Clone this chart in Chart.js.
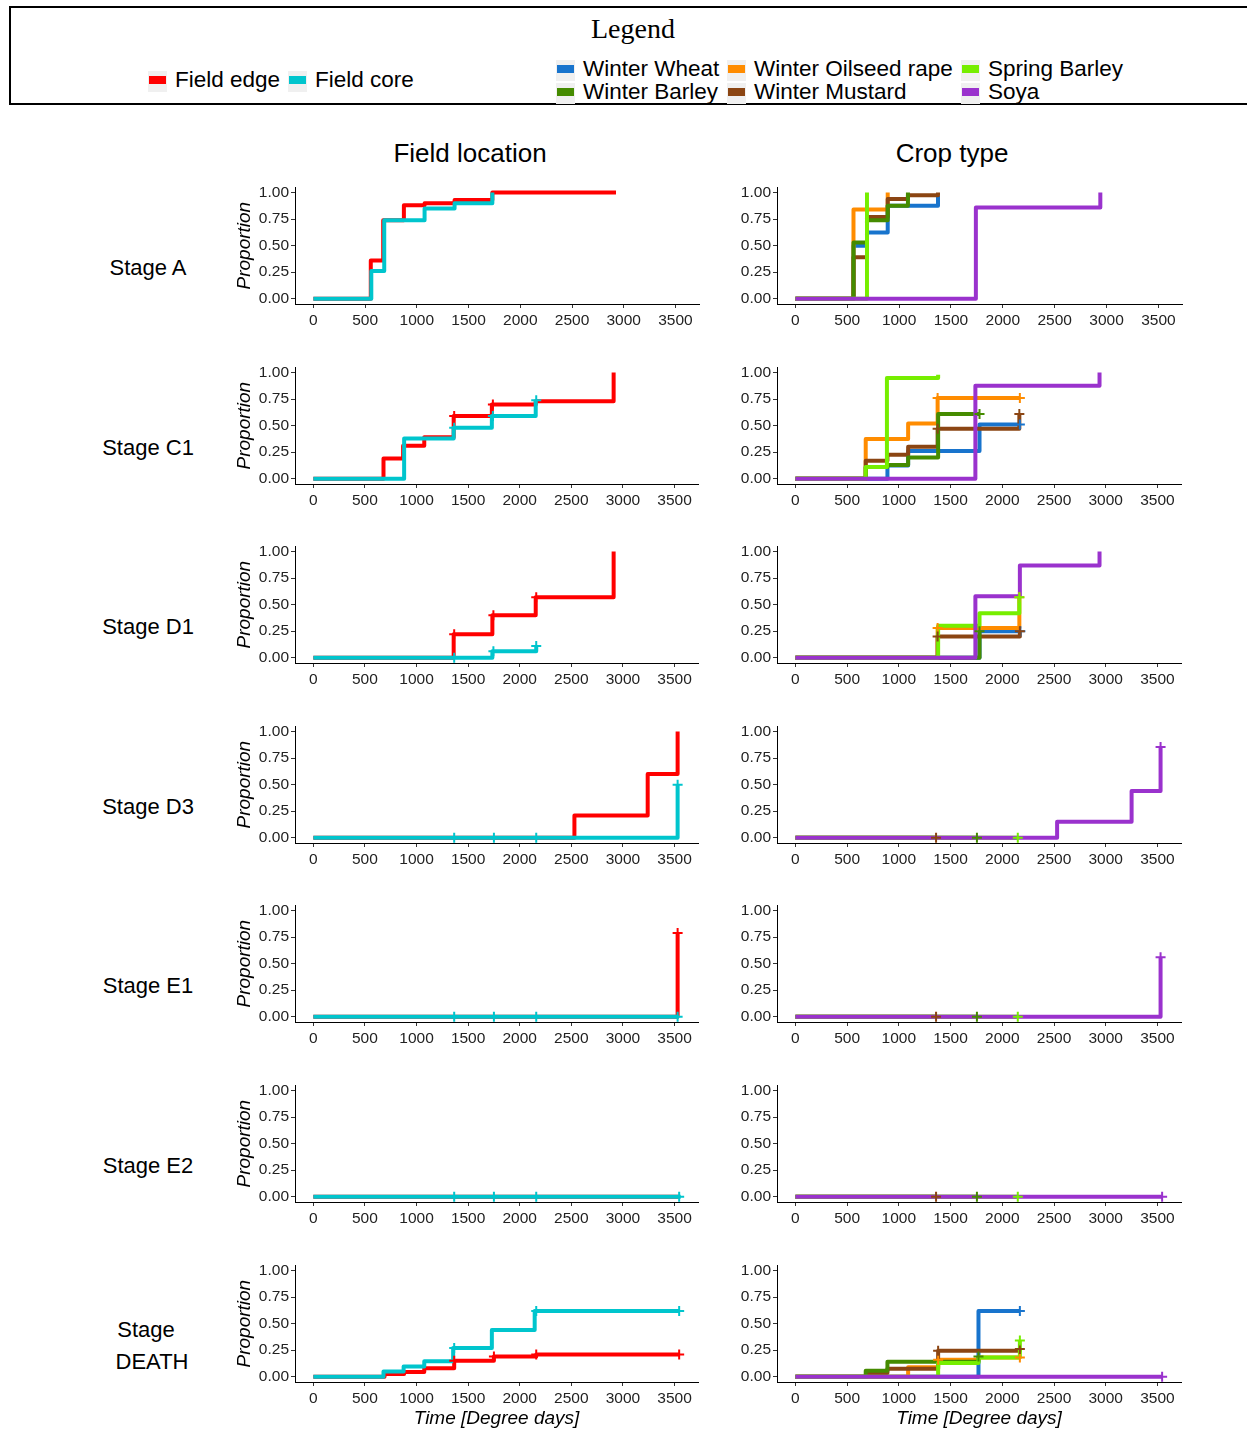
<!DOCTYPE html>
<html><head><meta charset="utf-8">
<script src="https://cdn.jsdelivr.net/npm/chart.js@4.4.0/dist/chart.umd.min.js"></script>
<style>
html,body{margin:0;padding:0;background:#fff;overflow:hidden;width:1247px;height:1429px;}
body{position:relative;font-family:"Liberation Sans",Arial,sans-serif;}
.t{position:absolute;white-space:nowrap;transform:translate(-50%,-50%);color:#000;line-height:1;}
.l{position:absolute;white-space:nowrap;transform:translateY(-50%);color:#000;font-size:22.5px;line-height:1;}
canvas{position:absolute;}
#legend{position:absolute;left:9px;top:6px;width:1280px;height:99px;border:2px solid #000;box-sizing:border-box;}
.key{position:absolute;width:19px;height:21px;background:#f0f0f0;}
.key i{position:absolute;left:1px;top:5px;width:17px;height:8px;}
</style></head><body>
<div id="legend"></div>
<script>
// ---------- axis ticks ----------
const xTicks = [0,500,1000,1500,2000,2500,3000,3500];
const xTickLabels = ['0','500','1000','1500','2000','2500','3000','3500'];
const yTicks = [0,0.25,0.5,0.75,1];
const yTickLabels = ['0.00','0.25','0.50','0.75','1.00'];
const stageLabels = ['Stage A','Stage C1','Stage D1','Stage D3','Stage E1','Stage E2','Stage|DEATH'];
const locationNames = ['Field edge','Field core'];
const cropNames = ['Winter Wheat','Winter Oilseed rape','Spring Barley','Winter Barley','Winter Mustard','Soya'];

// ---------- Field location: [time, proportion] step points, censor times ----------
const A_edge = [[0,0],[555,0.36],[675,0.74],[875,0.88],[1075,0.90],[1365,0.93],[1730,1.0],[2925,1.0]];
const A_edge_c = [];
const A_core = [[0,0],[560,0.26],[685,0.74],[1075,0.85],[1365,0.90],[1730,1.0]];
const A_core_c = [];
const C1_edge = [[0,0],[680,0.19],[870,0.31],[1075,0.39],[1360,0.59],[1730,0.70],[2155,0.73],[2910,1.0]];
const C1_edge_c = [1365,1740];
const C1_core = [[0,0],[880,0.38],[1360,0.48],[1730,0.59],[2155,0.74]];
const C1_core_c = [1365,1740,2160];
const D1_edge = [[0,0],[1360,0.22],[1735,0.40],[2155,0.57],[2910,1.0]];
const D1_edge_c = [1365,1745,2160];
const D1_core = [[0,0],[1735,0.06],[2160,0.11]];
const D1_core_c = [1365,1745,2160];
const D3_edge = [[0,0],[2530,0.21],[3240,0.60],[3530,1.0]];
const D3_edge_c = [];
const D3_core = [[0,0],[3530,0.50]];
const D3_core_c = [1365,1750,2160,3530];
const E1_edge = [[0,0],[3530,0.79]];
const E1_edge_c = [3530];
const E1_core = [[0,0],[3540,0]];
const E1_core_c = [1365,1750,2160,3530];
const E2_edge = [[0,0],[3540,0]];
const E2_edge_c = [];
const E2_core = [[0,0],[3560,0]];
const E2_core_c = [1365,1750,2160,3545];
const DEATH_edge = [[0,0],[690,0.025],[880,0.045],[1075,0.08],[1365,0.15],[1750,0.19],[2160,0.21],[3545,0.21]];
const DEATH_edge_c = [1365,1750,2160,3545];
const DEATH_core = [[0,0],[680,0.05],[875,0.095],[1075,0.146],[1355,0.27],[1730,0.44],[2145,0.62],[3545,0.62]];
const DEATH_core_c = [1365,2160,3545];

// ---------- Crop type ----------
const A_ww = [[0,0],[560,0.50],[690,0.625],[890,0.875],[1375,0.97]];
const A_wor = [[0,0],[560,0.84],[890,1.0]];
const A_sb = [[0,0],[690,1.0]];
const A_wb = [[0,0],[560,0.53],[690,0.74],[890,0.875],[1085,1.0]];
const A_wm = [[0,0],[560,0.39],[690,0.77],[890,0.94],[1085,0.975],[1375,1.0]];
const A_soy = [[0,0],[1740,0.86],[2940,1.0]];
const A_ww_c = [], A_wor_c = [], A_sb_c = [], A_wb_c = [], A_wm_c = [], A_soy_c = [];

const C1_ww = [[0,0],[890,0.125],[1090,0.26],[1780,0.51],[2170,0.51]];
const C1_ww_c = [2170];
const C1_wor = [[0,0],[680,0.375],[1090,0.52],[1375,0.76],[2170,0.76]];
const C1_wor_c = [1375,2170];
const C1_sb = [[0,0],[680,0.11],[885,0.95],[1380,0.98]];
const C1_sb_c = [];
const C1_wb = [[0,0],[680,0.11],[890,0.13],[1090,0.20],[1380,0.61],[1780,0.61]];
const C1_wb_c = [1780];
const C1_wm = [[0,0],[680,0.17],[890,0.225],[1090,0.30],[1375,0.47],[2165,0.61]];
const C1_wm_c = [1375,2165];
const C1_soy = [[0,0],[1740,0.875],[2940,1.0]];
const C1_soy_c = [];

const D1_ww = [[0,0],[1780,0.25],[2175,0.25]];
const D1_ww_c = [2175];
const D1_wor = [[0,0],[1375,0.28],[2165,0.57]];
const D1_wor_c = [1375,2165];
const D1_sb = [[0,0],[1380,0.30],[1780,0.42],[2165,0.57]];
const D1_sb_c = [2165];
const D1_wb = [[0,0],[1780,0.25]];
const D1_wb_c = [1780];
const D1_wm = [[0,0],[1375,0.20],[2170,0.25]];
const D1_wm_c = [1375,2170];
const D1_soy = [[0,0],[1740,0.58],[2170,0.87],[2940,1.0]];
const D1_soy_c = [];

const D3_soy = [[0,0],[2530,0.15],[3250,0.44],[3530,0.855]];
const D3_soy_c = [3530];
const D3_wm = [[0,0],[1360,0]];
const D3_wm_c = [1360];
const D3_wb = [[0,0],[1755,0]];
const D3_wb_c = [1755];
const D3_sb = [[0,0],[2150,0]];
const D3_sb_c = [2150];

const E1_soy = [[0,0],[3530,0.56]];
const E1_soy_c = [3530];
const E1_wm = [[0,0],[1360,0]];
const E1_wm_c = [1360];
const E1_wb = [[0,0],[1755,0]];
const E1_wb_c = [1755];
const E1_sb = [[0,0],[2150,0]];
const E1_sb_c = [2150];

const E2_soy = [[0,0],[3545,0]];
const E2_soy_c = [3545];
const E2_wm = [[0,0],[1360,0]];
const E2_wm_c = [1360];
const E2_wb = [[0,0],[1755,0]];
const E2_wb_c = [1755];
const E2_sb = [[0,0],[2150,0]];
const E2_sb_c = [2150];

const DEATH_ww = [[0,0],[1770,0.62],[2170,0.62]];
const DEATH_ww_c = [2170];
const DEATH_wor = [[0,0],[1090,0.09],[1380,0.16],[1770,0.18],[2170,0.18]];
const DEATH_wor_c = [1380,2170];
const DEATH_sb = [[0,0],[1380,0.13],[1770,0.18],[2170,0.34]];
const DEATH_sb_c = [2170];
const DEATH_wb = [[0,0],[680,0.055],[890,0.14],[1770,0.19]];
const DEATH_wb_c = [1770];
const DEATH_wm = [[0,0],[685,0.035],[890,0.076],[1380,0.245],[2170,0.26]];
const DEATH_wm_c = [1380,2170];
const DEATH_soy = [[0,0],[3545,0]];
const DEATH_soy_c = [3545];

const colors = {
  'Field edge':'#FF0000','Field core':'#00C5CD',
  'Winter Wheat':'#1874CD','Winter Oilseed rape':'#FF8C00','Spring Barley':'#76EE00',
  'Winter Barley':'#458B00','Winter Mustard':'#8B4513','Soya':'#9A32CD'
};

// per row: series listed top-most first
const locRows = [
  [['Field core',A_core,A_core_c],['Field edge',A_edge,A_edge_c]],
  [['Field core',C1_core,C1_core_c],['Field edge',C1_edge,C1_edge_c]],
  [['Field core',D1_core,D1_core_c],['Field edge',D1_edge,D1_edge_c]],
  [['Field core',D3_core,D3_core_c],['Field edge',D3_edge,D3_edge_c]],
  [['Field core',E1_core,E1_core_c],['Field edge',E1_edge,E1_edge_c]],
  [['Field core',E2_core,E2_core_c],['Field edge',E2_edge,E2_edge_c]],
  [['Field core',DEATH_core,DEATH_core_c],['Field edge',DEATH_edge,DEATH_edge_c]]
];
const cropRows = [
  [['Soya',A_soy,A_soy_c],['Spring Barley',A_sb,A_sb_c],['Winter Barley',A_wb,A_wb_c],['Winter Mustard',A_wm,A_wm_c],['Winter Oilseed rape',A_wor,A_wor_c],['Winter Wheat',A_ww,A_ww_c]],
  [['Soya',C1_soy,C1_soy_c],['Spring Barley',C1_sb,C1_sb_c],['Winter Barley',C1_wb,C1_wb_c],['Winter Mustard',C1_wm,C1_wm_c],['Winter Oilseed rape',C1_wor,C1_wor_c],['Winter Wheat',C1_ww,C1_ww_c]],
  [['Soya',D1_soy,D1_soy_c],['Spring Barley',D1_sb,D1_sb_c],['Winter Barley',D1_wb,D1_wb_c],['Winter Mustard',D1_wm,D1_wm_c],['Winter Oilseed rape',D1_wor,D1_wor_c],['Winter Wheat',D1_ww,D1_ww_c]],
  [['Soya',D3_soy,D3_soy_c],['Spring Barley',D3_sb,D3_sb_c],['Winter Barley',D3_wb,D3_wb_c],['Winter Mustard',D3_wm,D3_wm_c]],
  [['Soya',E1_soy,E1_soy_c],['Spring Barley',E1_sb,E1_sb_c],['Winter Barley',E1_wb,E1_wb_c],['Winter Mustard',E1_wm,E1_wm_c]],
  [['Soya',E2_soy,E2_soy_c],['Spring Barley',E2_sb,E2_sb_c],['Winter Barley',E2_wb,E2_wb_c],['Winter Mustard',E2_wm,E2_wm_c]],
  [['Soya',DEATH_soy,DEATH_soy_c],['Spring Barley',DEATH_sb,DEATH_sb_c],['Winter Barley',DEATH_wb,DEATH_wb_c],['Winter Mustard',DEATH_wm,DEATH_wm_c],['Winter Oilseed rape',DEATH_wor,DEATH_wor_c],['Winter Wheat',DEATH_ww,DEATH_ww_c]]
];

function valAt(s,t){let v=0;for(const p of s){if(p[0]<=t)v=p[1];}return v;}

const FONT = '"Liberation Sans", Arial, sans-serif';
Chart.defaults.font.family = FONT;

function addText(txt, x, y, size, extra){
  const d=document.createElement('div');d.className='t';d.textContent=txt;
  d.style.left=x+'px';d.style.top=y+'px';d.style.fontSize=size+'px';
  if(extra)Object.assign(d.style,extra);
  document.body.appendChild(d);
}

function makePanel(row, side, series){
  const last = row===6;
  const y0 = 298.3 + 179.6*row;
  const plotTop = y0 - 112.35;
  const ctop = Math.round(plotTop) - 10;
  const xH = last ? 48 : 30;
  const H = 10 + 118 + xH;
  const left = side==='L' ? 230 : 720;
  const W = side==='L' ? 475 : 468;
  const yW = side==='L' ? 65 : 57;
  const cv=document.createElement('canvas');
  cv.width=W;cv.height=H;cv.style.left=left+'px';cv.style.top=ctop+'px';
  cv.style.width=W+'px';cv.style.height=H+'px';
  document.body.appendChild(cv);
  const datasets=[];
  series.forEach(([name,pts,cens])=>{
    if(cens.length) datasets.push({
      data:cens.map(t=>({x:t,y:valAt(pts,t)})),
      showLine:false,pointStyle:'cross',pointRadius:5,pointBorderWidth:2,
      borderColor:colors[name],backgroundColor:colors[name],clip:false
    });
  });
  series.forEach(([name,pts])=>{
    if(pts.length) datasets.push({
      data:pts.map(p=>({x:p[0],y:p[1]})),
      borderColor:colors[name],borderWidth:4,stepped:true,pointRadius:0,
      fill:false,borderJoinStyle:'round',borderCapStyle:'butt'
    });
  });
  const tickFont={family:FONT,size:15.5};
  new Chart(cv,{
    type:'line',
    data:{datasets},
    options:{
      animation:false,responsive:false,devicePixelRatio:1,
      layout:{padding:{left:0,top:10,right:6,bottom:0}},
      plugins:{legend:{display:false},tooltip:{enabled:false}},
      scales:{
        x:{type:'linear',min:-177.5,max:3727.5,
          afterBuildTicks:s=>{s.ticks=xTicks.map(v=>({value:v}));},
          afterFit:s=>{s.height=xH;},
          ticks:{font:tickFont,color:'#222',padding:3,maxRotation:0,autoSkip:false,callback:(v,i)=>xTickLabels[i]},
          grid:{drawOnChartArea:false,drawTicks:true,tickLength:4,color:'#333'},
          border:{display:true,color:'#000',width:1},
          title:{display:last,text:'Time [Degree days]',color:'#000',font:{family:FONT,size:19,style:'italic'},padding:{top:0,bottom:0}}
        },
        y:{type:'linear',min:-0.05,max:1.05,
          afterBuildTicks:s=>{s.ticks=yTicks.map(v=>({value:v}));},
          afterFit:s=>{s.width=yW;},
          ticks:{font:tickFont,color:'#222',padding:2,autoSkip:false,callback:(v,i)=>yTickLabels[i]},
          grid:{drawOnChartArea:false,drawTicks:true,tickLength:4,color:'#333'},
          border:{display:true,color:'#000',width:1},
          title:{display:side==='L',text:'Proportion',color:'#000',font:{family:FONT,size:19,style:'italic'},padding:{top:3,bottom:0}}
        }
      }
    }
  });
}

for(let r=0;r<7;r++){
  makePanel(r,'L',locRows[r]);
  makePanel(r,'R',cropRows[r]);
  const cy = 268 + 179.6*r;
  const lab = stageLabels[r].split('|');
  if(lab.length===1) addText(lab[0],148,cy,22);
  else { addText(lab[0],146,cy-16,22); addText(lab[1],152,cy+16,22); }
}
addText('Field location',470,153,26);
addText('Crop type',952,153,26);

// ---------- legend ----------
function legText(txt,x,y,size,font){
  const d=document.createElement('div');d.className='t';d.textContent=txt;
  d.style.left=x+'px';d.style.top=y+'px';d.style.fontSize=size+'px';if(font)d.style.fontFamily=font;
  document.body.appendChild(d);
}
legText('Legend',633,29,28,'"Liberation Serif","Times New Roman",serif');
function legItem(name,kx,cy){
  const k=document.createElement('div');k.className='key';k.style.left=(kx-1)+'px';k.style.top=(cy-9)+'px';
  const i=document.createElement('i');i.style.background=colors[name];k.appendChild(i);document.body.appendChild(k);
  const d=document.createElement('div');d.className='l';d.textContent=name;d.style.left=(kx+26)+'px';d.style.top=cy+'px';
  document.body.appendChild(d);
}
legItem(locationNames[0],149,80);
legItem(locationNames[1],289,80);
const cropKeyX=[557,728,962];
legItem(cropNames[0],cropKeyX[0],69);
legItem(cropNames[1],cropKeyX[1],69);
legItem(cropNames[2],cropKeyX[2],69);
legItem(cropNames[3],cropKeyX[0],92);
legItem(cropNames[4],cropKeyX[1],92);
legItem(cropNames[5],cropKeyX[2],92);
</script>
</body></html>
